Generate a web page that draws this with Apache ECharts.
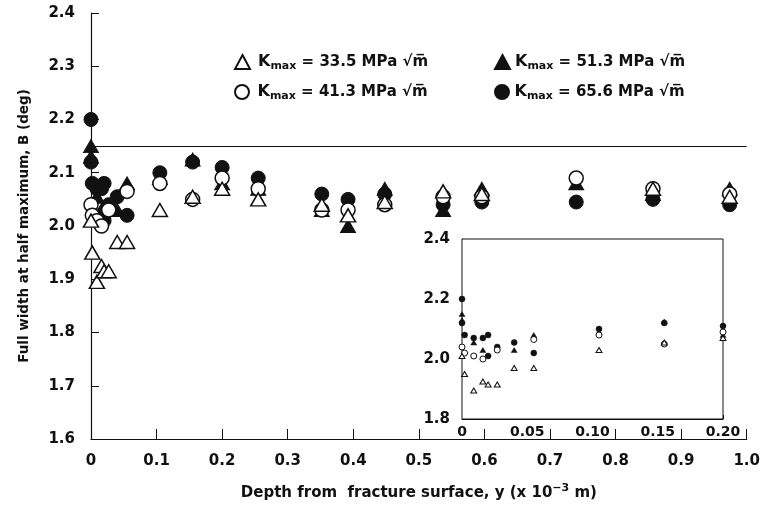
<!DOCTYPE html>
<html>
<head>
<meta charset="utf-8">
<script src="https://cdn.jsdelivr.net/npm/echarts@6/dist/echarts.min.js"></script>
<style>
  html, body { margin: 0; padding: 0; background: #fff; }
  #chart { width: 763px; height: 512px; }
</style>
</head>
<body>
<div id="chart"></div>
<script>
// Peak broadening (FWHM) versus depth below the fracture surface, four Kmax levels.
const depth335 = [0, 0.002, 0.009, 0.016, 0.02, 0.027, 0.04, 0.055, 0.105, 0.155, 0.2, 0.255, 0.352, 0.392, 0.448, 0.537, 0.596, 0.857, 0.974];
const fwhm335  = [2.01, 1.95, 1.895, 1.925, 1.915, 1.915, 1.97, 1.97, 2.03, 2.055, 2.07, 2.05, 2.04, 2.02, 2.045, 2.065, 2.06, 2.07, 2.055];

const depth413 = [0, 0.002, 0.009, 0.016, 0.027, 0.055, 0.105, 0.155, 0.2, 0.255, 0.352, 0.392, 0.448, 0.537, 0.596, 0.74, 0.857, 0.974];
const fwhm413  = [2.04, 2.02, 2.01, 2.00, 2.03, 2.065, 2.08, 2.05, 2.09, 2.07, 2.03, 2.03, 2.04, 2.055, 2.055, 2.09, 2.07, 2.06];

const depth513 = [0, 0, 0.009, 0.016, 0.04, 0.055, 0.105, 0.155, 0.2, 0.255, 0.352, 0.392, 0.448, 0.537, 0.596, 0.74, 0.857, 0.974];
const fwhm513  = [2.15, 2.13, 2.055, 2.03, 2.03, 2.08, 2.09, 2.125, 2.08, 2.07, 2.03, 2.00, 2.07, 2.03, 2.07, 2.08, 2.06, 2.07];

const depth656 = [0, 0, 0.002, 0.009, 0.016, 0.02, 0.02, 0.027, 0.04, 0.055, 0.105, 0.155, 0.2, 0.255, 0.352, 0.392, 0.448, 0.537, 0.596, 0.74, 0.857, 0.974];
const fwhm656  = [2.20, 2.12, 2.08, 2.07, 2.07, 2.08, 2.01, 2.04, 2.055, 2.02, 2.10, 2.12, 2.11, 2.09, 2.06, 2.05, 2.06, 2.04, 2.045, 2.045, 2.05, 2.04];

// horizontal reference level
const referenceFwhm = 2.15;

const kmaxLabels = ['33.5', '41.3', '51.3', '65.6'];

const mainXTickLabels = ['0', '0.1', '0.2', '0.3', '0.4', '0.5', '0.6', '0.7', '0.8', '0.9', '1.0'];
const mainYTickLabels = ['1.6', '1.7', '1.8', '1.9', '2.0', '2.1', '2.2', '2.3', '2.4'];
const insetXTickLabels = ['0', '0.05', '0.10', '0.15', '0.20'];
const insetYTickLabels = ['1.8', '2.0', '2.2', '2.4'];

const FONT = 'DejaVu Sans';
const INK = '#111';

function pairs(xs, ys) { return xs.map((x, i) => [x, ys[i]]); }

const seriesDefs = [
  { name: kmaxLabels[3], x: depth656, y: fwhm656, symbol: 'circle',   filled: true },
  { name: kmaxLabels[2], x: depth513, y: fwhm513, symbol: 'triangle', filled: true },
  { name: kmaxLabels[1], x: depth413, y: fwhm413, symbol: 'circle',   filled: false },
  { name: kmaxLabels[0], x: depth335, y: fwhm335, symbol: 'triangle', filled: false }
];

function styleFor(d, small) {
  return d.filled
    ? { color: INK, borderColor: INK, borderWidth: small ? 0.5 : 1, opacity: 1 }
    : { color: '#fff', borderColor: INK, borderWidth: small ? 1 : 1.5, opacity: 1 };
}

const series = [];
seriesDefs.forEach((d) => {
  series.push({
    name: d.name, type: 'scatter', xAxisIndex: 0, yAxisIndex: 0,
    symbol: d.symbol,
    symbolSize: d.symbol === 'circle' ? 14 : [15, 13],
    itemStyle: styleFor(d, false),
    data: pairs(d.x, d.y), z: 3
  });
});
seriesDefs.forEach((d) => {
  series.push({
    name: d.name, type: 'scatter', xAxisIndex: 1, yAxisIndex: 1,
    symbol: d.symbol,
    symbolSize: d.symbol === 'circle' ? 6 : [6, 5],
    itemStyle: styleFor(d, true),
    clip: true,
    data: pairs(d.x, d.y).filter(p => p[0] <= 0.2), z: 5
  });
});
series[0].markLine = {
  silent: true, symbol: ['none', 'none'], animation: false,
  label: { show: false },
  lineStyle: { color: INK, type: 'solid', width: 1.2 },
  data: [{ yAxis: referenceFwhm }]
};

const legendRich = {
  k: { fontFamily: FONT, fontSize: 16, fontWeight: 'bold', color: INK },
  s: { fontFamily: FONT, fontSize: 11, fontWeight: 'bold', color: INK, padding: [9, 0, 0, 0] },
  t: { fontFamily: FONT, fontSize: 15, fontWeight: 'bold', color: INK }
};
function legendText(name) {
  return '{k|K}{s|max}{t| = ' + name + ' MPa \u221Am\u0305}';
}
const legendPos = [
  { name: kmaxLabels[0], left: 234, top: 54 },
  { name: kmaxLabels[2], left: 494, top: 54 },
  { name: kmaxLabels[1], left: 234, top: 84 },
  { name: kmaxLabels[3], left: 494, top: 84 }
];
const legends = legendPos.map((p, i) => ({
  data: [p.name], left: p.left, top: p.top,
  itemWidth: 15, itemHeight: 14, itemGap: 0,
  padding: 0, selectedMode: false,
  formatter: legendText,
  textStyle: { rich: legendRich, padding: [0, 0, 0, i % 2 === 0 ? 3 : 0] }
}));

const axisText = { fontFamily: FONT, fontSize: 15, fontWeight: 'bold', color: INK };

const option = {
  animation: false,
  backgroundColor: '#fff',
  legend: legends,
  grid: [
    { left: 91, right: 16, top: 13, bottom: 73 },
    { left: 462, right: 40, top: 239, bottom: 93, show: true, backgroundColor: '#fff', borderColor: INK, borderWidth: 1, z: 4 }
  ],
  xAxis: [
    {
      type: 'value', gridIndex: 0, min: 0, max: 1.0, interval: 0.1,
      axisLine: { lineStyle: { color: INK, width: 1.2 } },
      axisTick: { inside: true, length: 10, lineStyle: { color: INK } },
      splitLine: { show: false },
      axisLabel: Object.assign({ margin: 15, formatter: v => mainXTickLabels[Math.round(v / 0.1)] }, axisText),
      name: '{t|Depth from  fracture surface, y (x 10}{sup|\u22123}{t| m)}',
      nameLocation: 'middle', nameGap: 44,
      nameTextStyle: {
        rich: {
          t: { fontFamily: FONT, fontSize: 15, fontWeight: 'bold', color: INK },
          sup: { fontFamily: FONT, fontSize: 11, fontWeight: 'bold', color: INK, padding: [0, 0, 9, 0] }
        }
      }
    },
    {
      type: 'value', gridIndex: 1, min: 0, max: 0.2, interval: 0.05,
      axisLine: { lineStyle: { color: INK } },
      axisTick: { inside: true, length: 4, lineStyle: { color: INK } },
      splitLine: { show: false },
      axisLabel: Object.assign({ margin: 6, formatter: v => insetXTickLabels[Math.round(v / 0.05)] }, axisText, { fontSize: 14 })
    }
  ],
  yAxis: [
    {
      type: 'value', gridIndex: 0, min: 1.6, max: 2.4, interval: 0.1,
      axisLine: { show: true, lineStyle: { color: INK, width: 1.2 } },
      axisTick: { show: true, inside: true, length: 8, lineStyle: { color: INK } },
      splitLine: { show: false },
      axisLabel: Object.assign({ margin: 16, formatter: v => mainYTickLabels[Math.round((v - 1.6) / 0.1)] }, axisText),
      name: 'Full width at half maximum, B (deg)',
      nameLocation: 'middle', nameGap: 60, nameRotate: 90,
      nameTextStyle: { fontFamily: FONT, fontSize: 13.5, fontWeight: 'bold', color: INK }
    },
    {
      type: 'value', gridIndex: 1, min: 1.8, max: 2.4, interval: 0.2,
      axisLine: { show: true, lineStyle: { color: INK } },
      axisTick: { show: true, inside: true, length: 4, lineStyle: { color: INK } },
      splitLine: { show: false },
      axisLabel: Object.assign({ margin: 12, formatter: v => insetYTickLabels[Math.round((v - 1.8) / 0.2)] }, axisText)
    }
  ],
  series: series
};

const chart = echarts.init(document.getElementById('chart'), null, { renderer: 'canvas' });
chart.setOption(option);
</script>
</body>
</html>
